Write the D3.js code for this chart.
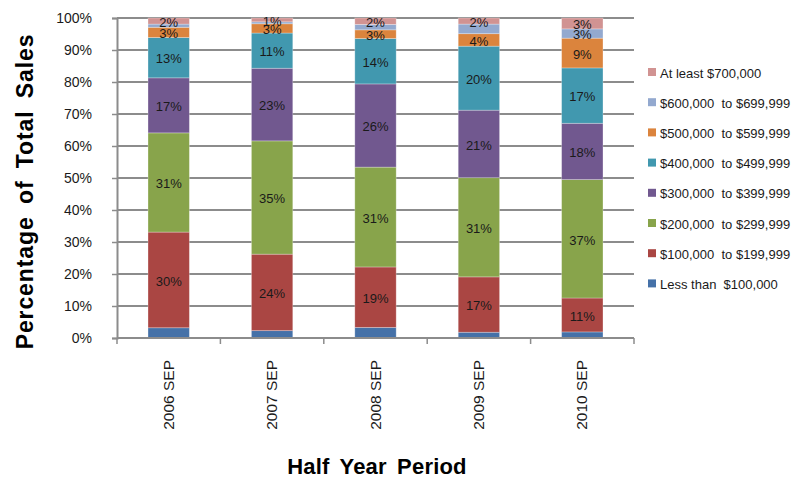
<!DOCTYPE html>
<html>
<head>
<meta charset="utf-8">
<script src="https://cdn.jsdelivr.net/npm/d3@7"></script>
<style>
  html, body { margin: 0; padding: 0; background: #fff; }
  svg { display: block; font-family: "Liberation Sans", Arial, sans-serif; }
</style>
</head>
<body>
<svg id="chart" width="805" height="479"></svg>
<script>
// Half-year periods on the x axis
const periods = ["2006 SEP", "2007 SEP", "2008 SEP", "2009 SEP", "2010 SEP"];

// Price bands, bottom of the stack first
const bands = [
  "Less than  $100,000",
  "$100,000  to $199,999",
  "$200,000  to $299,999",
  "$300,000  to $399,999",
  "$400,000  to $499,999",
  "$500,000  to $599,999",
  "$600,000  to $699,999",
  "At least $700,000"
];

// Share of total sales (%) per band, one value per period
const lessThan100k = [3.2, 2.3, 3.3, 1.8, 1.9];
const from100k     = [29.9, 23.9, 18.9, 17.3, 10.6];
const from200k     = [31.0, 35.4, 31.2, 31.0, 37.0];
const from300k     = [17.2, 22.7, 26.0, 21.1, 17.6];
const from400k     = [12.6, 11.0, 14.2, 20.0, 17.3];
const from500k     = [3.2, 2.9, 2.7, 3.9, 9.3];
const from600k     = [1.0, 0.6, 1.7, 3.0, 2.9];
const atLeast700k  = [1.9, 1.2, 2.0, 1.9, 3.4];

const seriesValues = [lessThan100k, from100k, from200k, from300k, from400k, from500k, from600k, atLeast700k];

// Which bands carry a value label, per period
const labelShown = [
  [false, false, false, false, false],
  [true, true, true, true, true],
  [true, true, true, true, true],
  [true, true, true, true, true],
  [true, true, true, true, true],
  [true, true, true, true, true],
  [false, false, false, false, true],
  [true, true, true, true, true]
];

const yTicks = [0, 10, 20, 30, 40, 50, 60, 70, 80, 90, 100];

const colors = ["#4571A8", "#AA4643", "#88A44B", "#71588F", "#4198AF", "#DB843D", "#93A9CF", "#D19392"];

// Rows for d3.stack
const rows = periods.map((p, i) => {
  const r = { period: p };
  bands.forEach((b, k) => { r[b] = seriesValues[k][i]; });
  return r;
});

const svg = d3.select("#chart");
const margin = { left: 117, right: 171, top: 18, bottom: 141 };
const W = 805, H = 479;
const plotW = W - margin.left - margin.right;
const plotH = H - margin.top - margin.bottom;

const x = d3.scaleBand().domain(periods).range([margin.left, margin.left + plotW]).paddingInner(0.6).paddingOuter(0.3);
const xTickScale = d3.scaleBand().domain(periods).range([margin.left, margin.left + plotW]);
const y = d3.scaleLinear().domain([0, 100]).range([margin.top + plotH, margin.top]);

// Horizontal gridlines
svg.append("g")
  .selectAll("line")
  .data(yTicks.filter(t => t > 0))
  .join("line")
  .attr("x1", margin.left).attr("x2", margin.left + plotW)
  .attr("y1", d => y(d)).attr("y2", d => y(d))
  .attr("stroke", "#8c8c8c").attr("stroke-width", 2);

// Stacked bars
const stacked = d3.stack().keys(bands)(rows);
const layer = svg.append("g")
  .selectAll("g")
  .data(stacked)
  .join("g")
  .attr("fill", (d, i) => colors[i]);

layer.selectAll("rect")
  .data(d => d)
  .join("rect")
  .attr("x", d => x(d.data.period))
  .attr("width", x.bandwidth())
  .attr("y", d => y(d[1]))
  .attr("height", d => y(d[0]) - y(d[1]))
  .attr("stroke", "rgba(255,255,255,0.35)")
  .attr("stroke-width", 0.8);

// Value labels
const fmt = v => Math.round(v) + "%";
stacked.forEach((s, k) => {
  svg.append("g")
    .selectAll("text")
    .data(s.map((d, i) => ({ d, i })).filter(o => labelShown[k][o.i]))
    .join("text")
    .attr("x", o => x(o.d.data.period) + x.bandwidth() / 2)
    .attr("y", o => (y(o.d[0]) + y(o.d[1])) / 2 + 1.2)
    .attr("text-anchor", "middle")
    .attr("dominant-baseline", "central")
    .attr("font-size", 13)
    .attr("fill", "#1a1a1a")
    .text(o => fmt(seriesValues[k][o.i]));
});

// Y axis
const yAxis = svg.append("g")
  .attr("transform", `translate(${margin.left},0)`)
  .call(d3.axisLeft(y).tickValues(yTicks).tickFormat(d => d + "%").tickSize(5).tickPadding(20));
yAxis.select(".domain").attr("stroke", "#8c8c8c").attr("stroke-width", 2);
yAxis.selectAll(".tick line").attr("stroke", "#8c8c8c").attr("stroke-width", 1.5);
yAxis.selectAll(".tick text").attr("font-size", 14).attr("fill", "#1a1a1a")
  .attr("font-family", "Liberation Sans, Arial, sans-serif");

// X axis: baseline with ticks at band boundaries
const xAxisG = svg.append("g");
xAxisG.append("line")
  .attr("x1", margin.left).attr("x2", margin.left + plotW)
  .attr("y1", y(0)).attr("y2", y(0))
  .attr("stroke", "#8c8c8c").attr("stroke-width", 2);
const boundaries = periods.map(p => xTickScale(p)).concat([margin.left + plotW]);
xAxisG.selectAll("line.tk")
  .data(boundaries)
  .join("line")
  .attr("class", "tk")
  .attr("x1", d => d).attr("x2", d => d)
  .attr("y1", y(0)).attr("y2", y(0) + 6)
  .attr("stroke", "#8c8c8c").attr("stroke-width", 1.5);
xAxisG.selectAll("text")
  .data(periods)
  .join("text")
  .attr("transform", d => `translate(${xTickScale(d) + xTickScale.bandwidth() / 2 + 5},${y(0) + 22}) rotate(-90)`)
  .attr("text-anchor", "end")
  .attr("font-size", 15.5)
  .attr("fill", "#1a1a1a")
  .text(d => d);

// Axis titles
svg.append("text")
  .attr("transform", `translate(33,191.5) rotate(-90)`)
  .attr("text-anchor", "middle")
  .attr("font-size", 23)
  .attr("font-weight", "bold")
  .attr("fill", "#000")
  .attr("word-spacing", 5)
  .attr("letter-spacing", 0.9)
  .text("Percentage of Total Sales");

svg.append("text")
  .attr("x", 377)
  .attr("y", 474)
  .attr("text-anchor", "middle")
  .attr("font-size", 22)
  .attr("font-weight", "bold")
  .attr("fill", "#000")
  .attr("word-spacing", 4)
  .attr("letter-spacing", 0.2)
  .text("Half Year Period");

// Legend, top entry is the highest band
const legend = svg.append("g").attr("transform", "translate(648,73)");
const legendItems = bands.map((b, i) => ({ b, i })).reverse();
const li = legend.selectAll("g")
  .data(legendItems)
  .join("g")
  .attr("transform", (d, j) => `translate(0,${j * 30.2})`);
li.append("rect")
  .attr("x", 0).attr("y", -5).attr("width", 8).attr("height", 8)
  .attr("fill", d => colors[d.i]);
li.append("text")
  .attr("x", 12).attr("y", 0)
  .attr("dominant-baseline", "central")
  .attr("font-size", 13)
  .attr("fill", "#1a1a1a")
  .style("white-space", "pre")
  .text(d => d.b);
</script>
</body>
</html>
